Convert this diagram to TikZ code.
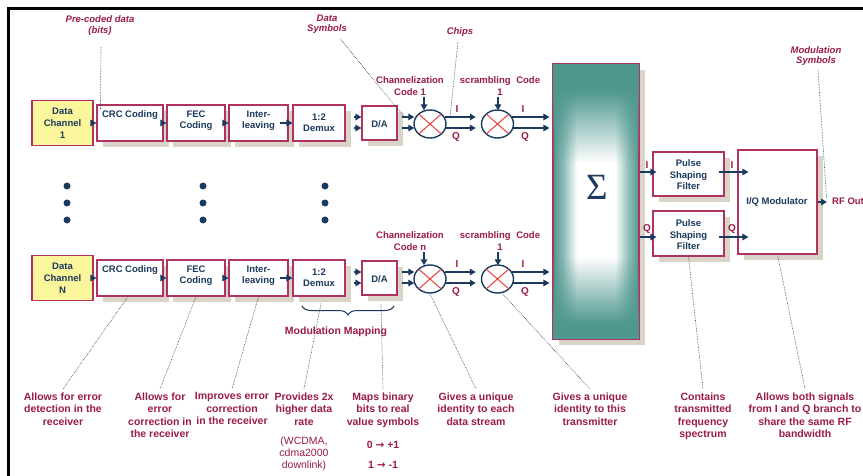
\documentclass[tikz,border=0pt]{standalone}
\usepackage{fontspec}
\setmainfont{Liberation Sans}
\newfontfamily\serifsig{Liberation Serif}
\newfontfamily\djv{DejaVu Sans}
\usetikzlibrary{arrows.meta,shapes.geometric,shadows,fadings,decorations.pathreplacing}
\definecolor{navy}{HTML}{1A3A5E}
\definecolor{crim}{HTML}{9B1B4A}
\definecolor{boxc}{HTML}{B0325F}
\definecolor{xred}{HTML}{E8403A}
\definecolor{tealc}{HTML}{4F9890}
\definecolor{shad}{HTML}{DAD3C8}
\definecolor{yel}{HTML}{FBF59C}
\pgfdeclarehorizontalshading{sigh}{100bp}{color(0bp)=(tealc); color(25bp)=(tealc); color(31bp)=(tealc!65!white); color(39bp)=(white); color(61bp)=(white); color(69bp)=(tealc!65!white); color(75bp)=(tealc); color(100bp)=(tealc)}
\pgfdeclareverticalshading{sigv}{100bp}{color(0bp)=(transparent!0); color(28bp)=(transparent!0); color(40bp)=(transparent!100); color(57bp)=(transparent!100); color(70bp)=(transparent!0); color(100bp)=(transparent!0)}
\pgfdeclarefading{sigfade}{\pgfuseshading{sigv}}
\begin{document}
\begin{tikzpicture}[x=1pt,y=-1pt,
 blk/.style={draw=boxc, line width=1.1pt, fill=white, inner sep=0pt, drop shadow={shadow xshift=6pt, shadow yshift=-6pt, fill=shad, opacity=1}},
 dcbox/.style={draw=boxc, line width=1.1pt, fill=yel, inner sep=0pt, minimum width=61pt, minimum height=45pt, font=\fontsize{9.5}{12}\selectfont\bfseries, text=navy, align=center},
 btxt/.style={font=\fontsize{9.5}{11.5}\selectfont\bfseries, text=navy, align=center, inner sep=0pt},
 mult/.style={ellipse, draw=navy, line width=1.4pt, fill=white, minimum width=32pt, minimum height=28pt, inner sep=0pt},
 arr/.style={draw=navy, line width=1.4pt, -{Triangle[length=6pt,width=6.5pt]}},
 lab/.style={font=\fontsize{9.5}{11.5}\selectfont\bfseries, text=crim, align=center, inner sep=0pt},
 ital/.style={font=\fontsize{9.5}{10.5}\selectfont\bfseries\itshape, text=crim, align=center, inner sep=0pt},
 note/.style={font=\fontsize{10.5}{12.5}\selectfont\bfseries, text=crim, align=center, inner sep=1.5pt},
 dotl/.style={draw=navy, line width=0.6pt, densely dotted},
]
\useasboundingbox (0,0) rectangle (863,476);
\fill[white] (0,0) rectangle (863,476);
\draw[line width=2.7pt] (8.7,476) -- (8.7,8.7) -- (863,8.7);

% summation block
\node[draw=boxc, line width=1.1pt, inner sep=0pt, minimum width=86pt, minimum height=275pt,
      shading=sigh,
      drop shadow={shadow xshift=6pt, shadow yshift=-6pt, fill=shad, opacity=1}] (sig) at (596,201.5) {};
\fill[tealc, path fading=sigfade] (sig.south west) rectangle (sig.north east);
\draw[boxc, line width=1.1pt] (sig.south west) rectangle (sig.north east);
\node[text=navy, font=\serifsig\fontsize{37}{37}\selectfont] at (597,187) {Σ};

% two channel rows
\foreach \r/\dy/\n/\c in {1/0/1/1,2/155/N/n}{
  \node[dcbox] (dc\r) at (62.5,123+\dy) {Data\\Channel\\\n};
  \node[blk, minimum width=66pt, minimum height=36pt] (crc\r) at (130,123+\dy) {};
  \node[btxt] at (130,115+\dy) {CRC Coding};
  \node[blk, minimum width=58pt, minimum height=36pt] (fec\r) at (196,123+\dy) {};
  \node[btxt] at (196,120.5+\dy) {FEC\\Coding};
  \node[blk, minimum width=59pt, minimum height=36pt] (int\r) at (258.5,123+\dy) {};
  \node[btxt] at (258.5,120.5+\dy) {Inter-\\leaving};
  \node[blk, minimum width=52pt, minimum height=36pt] (dmx\r) at (319,123+\dy) {};
  \node[btxt] at (319,122.5+\dy) {1:2\\Demux};
  \node[blk, minimum width=35pt, minimum height=34pt] (da\r) at (379.5,123+\dy) {};
  \node[btxt] at (379.5,124.5+\dy) {D/A};
  \node[mult] (m\r) at (430,124+\dy) {};
  \node[mult] (s\r) at (497.5,124+\dy) {};
  \draw[xred, line width=1pt, shorten <=0.6pt, shorten >=0.6pt] (m\r.north east) -- (m\r.south west);
  \draw[xred, line width=1pt, shorten <=0.6pt, shorten >=0.6pt] (m\r.north west) -- (m\r.south east);
  \draw[xred, line width=1pt, shorten <=0.6pt, shorten >=0.6pt] (s\r.north east) -- (s\r.south west);
  \draw[xred, line width=1pt, shorten <=0.6pt, shorten >=0.6pt] (s\r.north west) -- (s\r.south east);
  \coordinate (u\r) at (0,117+\dy);
  \coordinate (l\r) at (0,128+\dy);
  \draw[arr] ([xshift=-3pt]dc\r.east) -- (crc\r.west);
  \draw[arr] ([xshift=-3pt]crc\r.east) -- (fec\r.west);
  \draw[arr] ([xshift=-3pt]fec\r.east) -- (int\r.west);
  \draw[arr] ([xshift=-9pt]int\r.east) -- (dmx\r.west);
  \draw[arr] ([xshift=8pt]dmx\r.east |- u\r) -- (da\r.west |- u\r);
  \draw[arr] ([xshift=8pt]dmx\r.east |- l\r) -- (da\r.west |- l\r);
  \draw[arr] ([xshift=4pt]da\r.east |- u\r) -- ([xshift=1pt]m\r.west |- u\r);
  \draw[arr] ([xshift=4pt]da\r.east |- l\r) -- ([xshift=1pt]m\r.west |- l\r);
  \draw[arr] ([xshift=-2pt]m\r.east |- u\r) -- ([xshift=-5pt]s\r.west |- u\r);
  \draw[arr] ([xshift=-2pt]m\r.east |- l\r) -- ([xshift=-5pt]s\r.west |- l\r);
  \draw[arr] ([xshift=-2pt]s\r.east |- u\r) -- ([xshift=-3pt]sig.west |- u\r);
  \draw[arr] ([xshift=-2pt]s\r.east |- l\r) -- ([xshift=-3pt]sig.west |- l\r);
  \coordinate (cm\r) at (424,97+\dy);
  \coordinate (cs\r) at (498,97+\dy);
  \draw[arr] (cm\r) -- ([yshift=-1pt]cm\r |- m\r.north);
  \draw[arr] (cs\r) -- ([yshift=-1pt]cs\r |- s\r.north);
  \node[lab, font=\fontsize{10}{12}\selectfont\bfseries] at (457,109+\dy) {I};
  \node[lab, font=\fontsize{10}{12}\selectfont\bfseries] at (456,137+\dy) {Q};
  \node[lab, font=\fontsize{10}{12}\selectfont\bfseries] at (523,109+\dy) {I};
  \node[lab, font=\fontsize{10}{12}\selectfont\bfseries] at (525,137+\dy) {Q};
  \node[lab] at (410,86+\dy) {Channelization\\Code \c};
  \node[lab] at (500,86+\dy) {scrambling\hspace{0.6em}Code\\1};
}

% continuation dots
\foreach \x in {67,203,325} \foreach \y in {186,203,220} \fill[navy] (\x,\y) circle (3.5pt);

% pulse shaping and modulator
\node[blk, minimum width=71pt, minimum height=44pt] (f1) at (688.5,174) {};
\node[btxt] at (688.5,175) {Pulse\\Shaping\\Filter};
\node[blk, minimum width=71pt, minimum height=45pt] (f2) at (688.5,233.5) {};
\node[btxt] at (688.5,235) {Pulse\\Shaping\\Filter};
\node[blk, minimum width=79pt, minimum height=104pt] (mod) at (777.5,202) {};
\node[btxt] at (777,202) {I/Q Modulator};
\coordinate (yi) at (0,172);
\coordinate (yq) at (0,237);
\draw[arr] (sig.east |- yi) -- ([xshift=4pt]f1.west |- yi);
\draw[arr] (sig.east |- yq) -- ([xshift=4pt]f2.west |- yq);
\draw[arr] ([xshift=-6pt]f1.east |- yi) -- ([xshift=11pt]mod.west |- yi);
\draw[arr] ([xshift=-6pt]f2.east |- yq) -- ([xshift=11pt]mod.west |- yq);
\node[lab, font=\fontsize{10}{12}\selectfont\bfseries] at (647,165) {I};
\node[lab, font=\fontsize{10}{12}\selectfont\bfseries] at (647,229) {Q};
\node[lab, font=\fontsize{10}{12}\selectfont\bfseries] at (732,165) {I};
\node[lab, font=\fontsize{10}{12}\selectfont\bfseries] at (732,229) {Q};
\node[lab, anchor=west] (rf) at (832,201) {RF Out};
\draw[arr] (mod.east) -- ([xshift=-5pt]rf.west |- mod.east);

% top annotations
\node[ital] (pc) at (100,25.5) {Pre-coded data\\(bits)};
\draw[dotl] ([xshift=1pt,yshift=-12pt]pc.south) -- ([xshift=4pt,yshift=-5pt]crc1.north west);
\node[ital] (dsym) at (327,24) {Data\\Symbols};
\draw[dotl] ([xshift=13pt,yshift=-5pt]dsym.south) -- ([xshift=-9pt]m1.west |- u1);
\node[ital] (chips) at (460,32) {Chips};
\draw[dotl] ([xshift=-2pt,yshift=-5pt]chips.south) -- ([xshift=20pt]m1.center |- u1);
\node[ital] (msym) at (816,56) {Modulation\\Symbols};
\draw[dotl] ([xshift=2pt,yshift=-4pt]msym.south) -- ([xshift=9pt,yshift=4pt]mod.east);

% brace
\coordinate (bl) at (302,306);
\coordinate (br) at (394,306);
\draw[navy, line width=1pt, decorate, decoration={brace, mirror, amplitude=9pt}] (bl) -- (br);

% bottom notes
\node[note, anchor=north] (n1) at (63,391) {Allows for error\\detection in the\\receiver};
\node[note, anchor=north] (n2) at (160,391) {Allows for\\error\\correction in\\the receiver};
\node[note, anchor=north] (n3) at (232,391) {Improves error\\correction\\in the receiver};
\node[note, anchor=north] (n4) at (304,391) {Provides 2x\\higher data\\rate};
\node[note, anchor=north, font=\fontsize{10.5}{12}\selectfont] (n4b) at (304,435) {(WCDMA,\\cdma2000\\downlink)};
\node[note, anchor=north] (n5) at (383,391) {Maps binary\\bits to real\\value symbols};
\node[note] (n5a) at (383,445) {0 {\djv\bfseries →} +1};
\node[note] (n5b) at (383,465) {1 {\djv\bfseries →} -1};
\node[note, anchor=north] (n6) at (476,391) {Gives a unique\\identity to each\\data stream};
\node[note, anchor=north] (n7) at (590,391) {Gives a unique\\identity to this\\transmitter};
\node[note, anchor=north] (n8) at (703,391) {Contains\\transmitted\\frequency\\spectrum};
\node[note, anchor=north] (n9) at (805,391) {Allows both signals\\from I and Q branch to\\share the same RF\\bandwidth};

\draw[dotl] ([xshift=-2pt]crc2.south) -- ([yshift=2pt]n1.north);
\draw[dotl] (fec2.south) -- ([yshift=2pt]n2.north);
\draw[dotl] (int2.south) -- ([yshift=2pt]n3.north);
\draw[dotl] ([xshift=2pt,yshift=-7pt]dmx2.south) -- ([yshift=2pt]n4.north);
\draw[dotl] ([xshift=1.5pt,yshift=-9pt]da2.south) -- ([yshift=2pt]n5.north);
\draw[dotl] (m2.south) -- ([yshift=2pt]n6.north);
\draw[dotl] ([xshift=5pt]s2.south) -- ([yshift=2pt]n7.north);
\draw[dotl] (f2.south) -- ([yshift=2pt]n8.north);
\draw[dotl] (mod.south) -- ([yshift=2pt]n9.north);

\node[note] (mm) at (336,332) {Modulation Mapping};
\end{tikzpicture}
\end{document}
